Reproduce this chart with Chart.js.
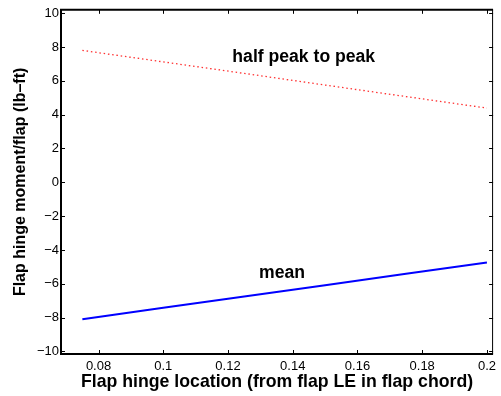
<!DOCTYPE html>
<html>
<head>
<meta charset="utf-8">
<script src="https://cdn.jsdelivr.net/npm/chart.js@4/dist/chart.umd.min.js"></script>
<style>
    html, body { margin: 0; padding: 0; background: #fff; }
    #wrap { width: 501px; height: 396px; }
</style>
</head>
<body>
<div id="wrap"><canvas id="myChart"></canvas></div>
<script>
// values
const hingeLoc = [0.075, 0.1, 0.125, 0.15, 0.175, 0.2];
const halfPeak = [7.80, 7.12, 6.44, 5.75, 5.07, 4.39];
const meanMoment = [-8.09, -7.42, -6.75, -6.08, -5.41, -4.74];

const xTicks = [0.08, 0.1, 0.12, 0.14, 0.16, 0.18, 0.2];
const yTicks = [-10, -8, -6, -4, -2, 0, 2, 4, 6, 8, 10];

const textLabels = ['half peak to peak', 'mean'];
const textX = [0.1434, 0.1367];
const textY = [7.1, -5.65];

const FONT = '"Liberation Sans", Arial, Helvetica, sans-serif';

Chart.defaults.color = '#000';
Chart.defaults.font.family = FONT;

function toPoints(xs, ys) {
    return xs.map((x, i) => ({ x: x, y: ys[i] }));
}

function fixTicks(values) {
    return function (scale) {
        scale.ticks = values.map(v => ({ value: v }));
    };
}

// matlab style box with inward ticks, plus the two text notes
const matlabBox = {
    id: 'matlab_box',
    afterDatasetsDraw: (chart) => {
        const { ctx, chartArea } = chart;
        const xs = chart.scales.x;
        const ys = chart.scales.y;
        const l = chartArea.left, r = chartArea.right, t = chartArea.top, b = chartArea.bottom;
        const tl = 4;

        ctx.save();
        ctx.strokeStyle = '#000';

        ctx.lineWidth = 1;
        ctx.beginPath();
        xTicks.forEach(v => {
            const px = Math.round(xs.getPixelForValue(v)) + 0.5;
            ctx.moveTo(px, b); ctx.lineTo(px, b - tl);
            ctx.moveTo(px, t); ctx.lineTo(px, t + tl);
        });
        yTicks.forEach(v => {
            const py = Math.round(ys.getPixelForValue(v)) + 0.5;
            ctx.moveTo(l, py); ctx.lineTo(l + tl, py);
            ctx.moveTo(r, py); ctx.lineTo(r - tl, py);
        });
        ctx.stroke();

        ctx.lineWidth = 2;
        ctx.beginPath();
        ctx.moveTo(r, t); ctx.lineTo(l, t); ctx.lineTo(l, b); ctx.lineTo(r, b);
        ctx.stroke();
        ctx.lineWidth = 1;
        ctx.beginPath();
        ctx.moveTo(r - 0.5, t); ctx.lineTo(r - 0.5, b);
        ctx.stroke();

        ctx.fillStyle = '#000';
        ctx.font = 'bold 17.6px ' + FONT;
        ctx.textAlign = 'center';
        ctx.textBaseline = 'alphabetic';
        textLabels.forEach((txt, i) => {
            ctx.fillText(txt, xs.getPixelForValue(textX[i]), ys.getPixelForValue(textY[i]));
        });
        ctx.restore();
    }
};

function createChart() {
    const ctx = document.getElementById('myChart').getContext('2d');

    return new Chart(ctx, {
        type: 'line',
        data: {
            datasets: [
                {
                    label: 'half peak to peak',
                    data: toPoints(hingeLoc, halfPeak),
                    borderColor: 'rgb(255, 50, 50)',
                    borderWidth: 1.3,
                    borderDash: [1.5, 2.8],
                    pointRadius: 0,
                    tension: 0
                },
                {
                    label: 'mean',
                    data: toPoints(hingeLoc, meanMoment),
                    borderColor: '#0000ff',
                    borderWidth: 2,
                    pointRadius: 0,
                    tension: 0
                }
            ]
        },
        options: {
            responsive: true,
            maintainAspectRatio: false,
            animation: false,
            events: [],
            layout: {
                autoPadding: false,
                padding: { top: 6, right: 2, left: 0, bottom: 0 }
            },
            plugins: {
                legend: { display: false },
                tooltip: { enabled: false }
            },
            scales: {
                x: {
                    type: 'linear',
                    min: 0.0684,
                    max: 0.2019,
                    afterBuildTicks: fixTicks(xTicks),
                    afterFit: (scale) => { scale.height = 42; },
                    grid: { display: false, drawTicks: false },
                    border: { display: false },
                    ticks: {
                        padding: 5,
                        maxRotation: 0,
                        autoSkip: false,
                        font: { size: 13 },
                        callback: (v) => String(v)
                    },
                    title: {
                        display: true,
                        text: 'Flap hinge location (from flap LE in flap chord)',
                        font: { size: 17.7, weight: 'bold' },
                        padding: { top: 0, bottom: 3 }
                    }
                },
                y: {
                    type: 'linear',
                    min: -10.15,
                    max: 10.2,
                    afterBuildTicks: fixTicks(yTicks),
                    afterFit: (scale) => { scale.width = 61; },
                    grid: { display: false, drawTicks: false },
                    border: { display: false },
                    ticks: {
                        padding: 2,
                        autoSkip: false,
                        font: { size: 13 },
                        callback: (v) => String(v).replace('-', '\u2212')
                    },
                    title: {
                        display: true,
                        text: 'Flap hinge moment/flap (lb\u2013ft)',
                        font: { size: 16, weight: 'bold' },
                        padding: { top: 11, bottom: 0 }
                    }
                }
            }
        },
        plugins: [matlabBox]
    });
}

createChart();
</script>
</body>
</html>
